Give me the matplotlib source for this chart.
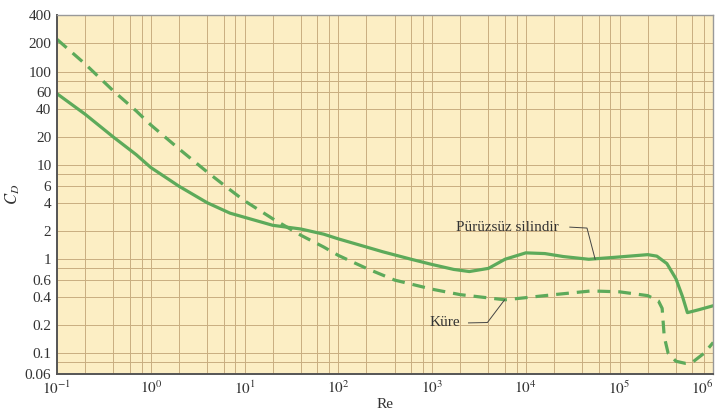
import numpy as np
import matplotlib.pyplot as plt
import matplotlib.transforms as mtrans
from matplotlib.ticker import FixedLocator, NullFormatter

plt.rcParams['font.family'] = ['Liberation Serif', 'DejaVu Serif']
plt.rcParams['mathtext.fontset'] = 'stix'

# Re ve C_D değerleri
re_silindir = [0.1, 0.2, 0.4, 0.7, 1, 2, 4, 7, 10, 20, 40, 70, 100, 200, 300,
               600, 1000, 1700, 2500, 4000, 6000, 10000, 16000, 25000, 47000,
               90000, 200000, 250000, 320000, 400000, 470000, 530000, 700000, 1000000]
cd_silindir = [58, 35, 20, 13, 9.5, 6.0, 4.0, 3.1, 2.8, 2.3, 2.1, 1.85, 1.65, 1.35, 1.2,
               1.0, 0.88, 0.78, 0.74, 0.8, 1.0, 1.17, 1.15, 1.07, 1.0,
               1.05, 1.12, 1.08, 0.9, 0.62, 0.4, 0.27, 0.29, 0.32]

re_kure = [0.1, 0.2, 0.4, 0.7, 1, 2, 4, 7, 10, 20, 40, 70, 100, 200, 400,
           1000, 2000, 6000, 10000, 20000, 50000, 100000, 200000, 260000,
           285000, 300000, 330000, 400000, 500000, 600000, 800000, 1000000]
cd_kure = [220, 120, 62, 38, 27, 15, 8.5, 5.5, 4.2, 2.7, 1.8, 1.35, 1.1, 0.8, 0.6,
           0.48, 0.42, 0.37, 0.39, 0.42, 0.46, 0.45, 0.41, 0.36,
           0.3, 0.15, 0.1, 0.082, 0.078, 0.08, 0.1, 0.13]

y_ticks = [0.06, 0.1, 0.2, 0.4, 0.6, 1, 2, 4, 6, 10, 20, 40, 60, 100, 200, 400]
y_labels = ['0.06', '0.1', '0.2', '0.4', '0.6', '1', '2', '4', '6', '10', '20',
            '40', '60', '100', '200', '400']
x_ticks = [0.1, 1, 10, 100, 1000, 10000, 100000, 1000000]
x_labels = ['$10^{-1}$', '$10^{0}$', '$10^{1}$', '$10^{2}$', '$10^{3}$',
            '$10^{4}$', '$10^{5}$', '$10^{6}$']

green = '#5DAA5A'
grid_c = '#C9AE80'

fig = plt.figure(figsize=(7.18, 4.16), dpi=100)
ax = fig.add_axes([0.0794, 0.101, 0.914, 0.863])
ax.set_facecolor('#FCEEC4')
ax.set_xscale('log')
ax.set_yscale('log')
ax.set_xlim(0.1, 1e6)
ax.set_ylim(0.06, 400)

# ızgara: her on katta 2, 4, 6, 8
minor_x = [m * 10.0 ** e for e in range(-1, 6) for m in (2, 4, 6, 8)]
minor_y = [m * 10.0 ** e for e in range(-2, 3) for m in (2, 4, 6, 8)]
ax.xaxis.set_major_locator(FixedLocator(x_ticks))
ax.xaxis.set_minor_locator(FixedLocator(minor_x))
ax.yaxis.set_major_locator(FixedLocator(y_ticks))
ax.yaxis.set_minor_locator(FixedLocator(minor_y))
ax.set_xticklabels(x_labels)
ax.set_yticklabels(y_labels)
ax.xaxis.set_minor_formatter(NullFormatter())
ax.yaxis.set_minor_formatter(NullFormatter())
ax.grid(True, which='both', color=grid_c, lw=0.7)
ax.set_axisbelow(True)
ax.tick_params(which='both', length=0, labelsize=11, colors='#333333', pad=4)

# son etiket kenarda kesilmesin
last = ax.get_xticklabels()[-1]
last.set_transform(last.get_transform() +
                   mtrans.ScaledTranslation(-8 / 72, 0, fig.dpi_scale_trans))

for s in ['left', 'bottom']:
    ax.spines[s].set_color('#555555')
    ax.spines[s].set_linewidth(1.4)
for s in ['top', 'right']:
    ax.spines[s].set_color('#999999')
    ax.spines[s].set_linewidth(1.0)

ax.plot(re_silindir, cd_silindir, color=green, lw=2.3, solid_joinstyle='round')
ax.plot(re_kure, cd_kure, color=green, lw=2.3, ls=(0, (4, 2.5)))

ax.set_xlabel('Re', fontsize=11, labelpad=1, color='#333333')
ax.set_ylabel('$C_D$', fontsize=12, labelpad=2, color='#333333')

# etiketler ve kılavuz çizgileri
ax.text(1800, 2.2, 'Pürüzsüz silindir', fontsize=11, color='#333333',
        ha='left', va='center')
ax.plot([29500, 45000, 55000], [2.2, 2.15, 1.0], color='#444444', lw=0.7)
ax.text(950, 0.21, 'Küre', fontsize=11, color='#333333',
        ha='left', va='center')
ax.plot([2450, 3900, 5950], [0.21, 0.212, 0.37], color='#444444', lw=0.7)

fig.savefig('out.png', dpi=100)
